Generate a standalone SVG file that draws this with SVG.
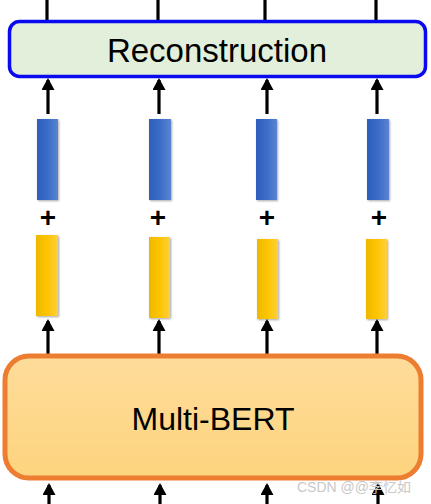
<svg xmlns="http://www.w3.org/2000/svg" width="431" height="504" viewBox="0 0 431 504">
<style>
.ln{stroke:#000;stroke-width:3.2;fill:none}
.lbl{font-family:"Liberation Sans",Arial,sans-serif;fill:#000}
.plus{font-family:"Liberation Sans",Arial,sans-serif;font-weight:bold;font-size:28px;text-anchor:middle;fill:#000}
</style>
<defs>
<marker id="ah" markerUnits="userSpaceOnUse" markerWidth="12" markerHeight="13" refX="10" refY="6.5" orient="auto" viewBox="0 0 12 13">
<path d="M0,0 L12,6.5 L0,13 Z" fill="#000"/>
</marker>
<linearGradient id="blue" x1="0" x2="1" y1="0" y2="0"><stop offset="0" stop-color="#2E5EBC"/><stop offset="0.5" stop-color="#3A6CC8"/><stop offset="1" stop-color="#5B84D0"/></linearGradient>
<linearGradient id="yel" x1="0" x2="1" y1="0" y2="0"><stop offset="0" stop-color="#EDB800"/><stop offset="0.5" stop-color="#FDC500"/><stop offset="1" stop-color="#FFCF40"/></linearGradient>
<linearGradient id="org" x1="0" x2="0" y1="0" y2="1"><stop offset="0" stop-color="#FEDC9A"/><stop offset="1" stop-color="#FDD47E"/></linearGradient>
<filter id="sh" x="-30%" y="-10%" width="160%" height="120%"><feDropShadow dx="1" dy="1" stdDeviation="1" flood-color="#000" flood-opacity="0.35"/></filter>
</defs>

<g id="connectors">
<line class="ln" x1="47" y1="0" x2="47" y2="20"/>
<line class="ln" x1="158" y1="0" x2="158" y2="20"/>
<line class="ln" x1="265" y1="0" x2="265" y2="20"/>
<line class="ln" x1="376" y1="0" x2="376" y2="20"/>
<line class="ln" x1="48" y1="114" x2="48" y2="80" marker-end="url(#ah)"/>
<line class="ln" x1="159" y1="114" x2="159" y2="80" marker-end="url(#ah)"/>
<line class="ln" x1="267" y1="114" x2="267" y2="80" marker-end="url(#ah)"/>
<line class="ln" x1="377" y1="114" x2="377" y2="80" marker-end="url(#ah)"/>
<line class="ln" x1="48" y1="354" x2="48" y2="321" marker-end="url(#ah)"/>
<line class="ln" x1="159" y1="354" x2="159" y2="321" marker-end="url(#ah)"/>
<line class="ln" x1="267" y1="354" x2="267" y2="321" marker-end="url(#ah)"/>
<line class="ln" x1="377" y1="354" x2="377" y2="321" marker-end="url(#ah)"/>
<line class="ln" x1="49" y1="504" x2="49" y2="485" marker-end="url(#ah)"/>
<line class="ln" x1="160" y1="504" x2="160" y2="485" marker-end="url(#ah)"/>
<line class="ln" x1="267" y1="504" x2="267" y2="485" marker-end="url(#ah)"/>
<line class="ln" x1="378" y1="504" x2="378" y2="485" marker-end="url(#ah)"/>
</g>

<g id="reconstruction">
<rect x="9.5" y="21.5" width="416" height="55" rx="10" fill="#E2EFDA" stroke="#0A0AF0" stroke-width="3.5"/>
<text class="lbl" x="217" y="62" font-size="33" text-anchor="middle">Reconstruction</text>
</g>

<g id="blue-vectors" filter="url(#sh)">
<rect x="37" y="119" width="21" height="81" fill="url(#blue)"/>
<rect x="149" y="119" width="22" height="81" fill="url(#blue)"/>
<rect x="256" y="119" width="21" height="81" fill="url(#blue)"/>
<rect x="367" y="119" width="22" height="81" fill="url(#blue)"/>
</g>

<g id="plus-signs">
<text class="plus" x="48" y="227">+</text>
<text class="plus" x="158" y="227">+</text>
<text class="plus" x="267" y="227">+</text>
<text class="plus" x="379" y="227">+</text>
</g>

<g id="yellow-vectors" filter="url(#sh)">
<rect x="36" y="235" width="22" height="81" fill="url(#yel)"/>
<rect x="149" y="237" width="21" height="81" fill="url(#yel)"/>
<rect x="257" y="239" width="21" height="80" fill="url(#yel)"/>
<rect x="366" y="239" width="21" height="80" fill="url(#yel)"/>
</g>

<g id="multi-bert">
<rect x="5" y="356" width="416" height="122" rx="24" fill="url(#org)" stroke="#ED7D31" stroke-width="5"/>
<text class="lbl" x="213" y="430" font-size="32" text-anchor="middle">Multi-BERT</text>
</g>

<text x="297" y="492" font-family="'Liberation Sans','Noto Sans CJK SC',sans-serif" font-size="14" fill="#C8C8C8">CSDN @@李忆如</text>
</svg>
